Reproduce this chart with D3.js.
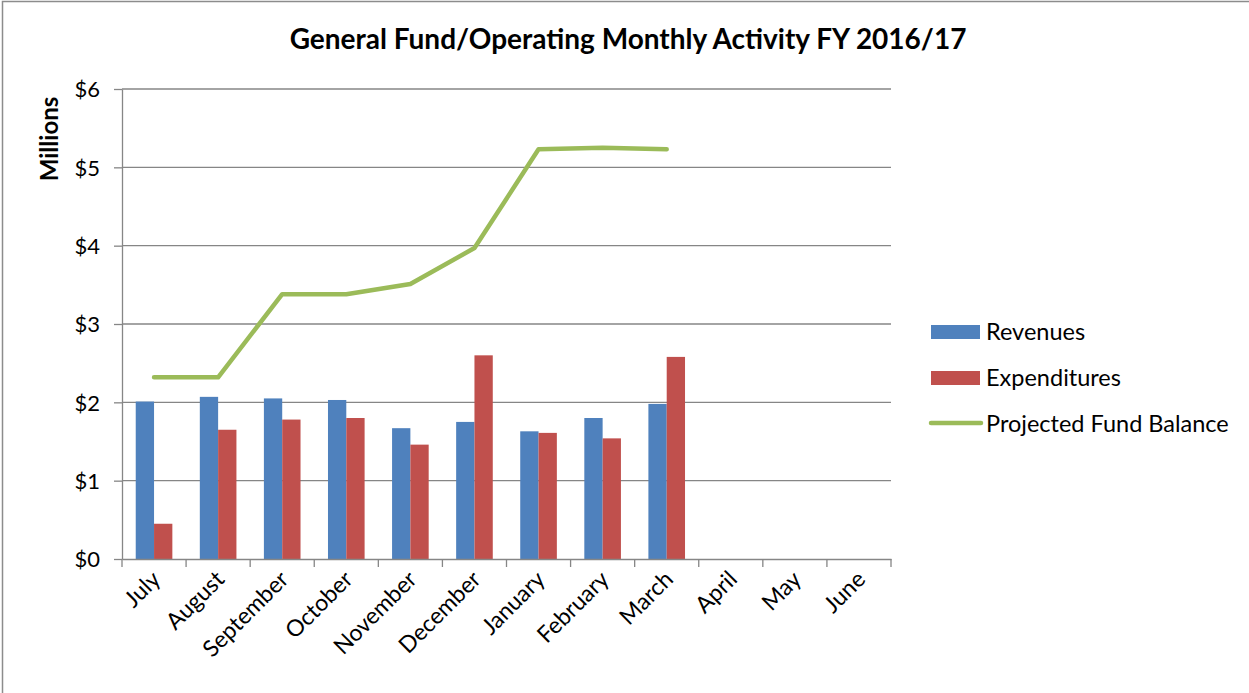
<!DOCTYPE html>
<meta charset='utf-8'>
<style>
body {
    margin: 0;
    background: #fff;
}

svg text {
    font-family: Lato, 'Open Sans', sans-serif;
    fill: #000;
}

.grid line {
    stroke: #868686;
    stroke-width: 1.3px;
}

.axis path,
.axis line {
    stroke: #868686;
    stroke-width: 1.3px;
}
</style>

<body>
    <div class='chart'></div>
    <script src='https://d3js.org/d3.v7.min.js'></script>
    <script>
    // monthly values, in millions of dollars
    var months = ['July', 'August', 'September', 'October', 'November', 'December',
                  'January', 'February', 'March', 'April', 'May', 'June'];
    var revenues = [2.01, 2.07, 2.05, 2.03, 1.67, 1.75, 1.63, 1.80, 1.98];
    var expenditures = [0.45, 1.65, 1.78, 1.80, 1.46, 2.60, 1.61, 1.54, 2.58];
    var fundBalance = [2.32, 2.32, 3.38, 3.38, 3.51, 3.97, 5.23, 5.25, 5.23];
    var yTicks = [0, 1, 2, 3, 4, 5, 6];

    var seriesNames = ['Revenues', 'Expenditures', 'Projected Fund Balance'];
    var colors = {
        'Revenues': '#4f81bd',
        'Expenditures': '#c0504d',
        'Projected Fund Balance': '#9bbb59'
    };

    var width = 1249,
        height = 693;
    var margin = {top: 89, left: 122, right: 358, bottom: 134};

    var svg = d3.select('.chart').append('svg')
        .attr('width', width)
        .attr('height', height);

    // chart border (only left and top visible in the frame)
    svg.append('rect')
        .attr('x', 2.5)
        .attr('y', 1.5)
        .attr('width', width + 10)
        .attr('height', height + 10)
        .attr('fill', 'none')
        .attr('stroke', '#8c8c8c')
        .attr('stroke-width', 1.5);

    var x = d3.scaleBand()
        .domain(months)
        .range([margin.left, width - margin.right]);

    var y = d3.scaleLinear()
        .domain([0, 6])
        .range([height - margin.bottom, margin.top]);

    // bars take 2 of 3.5 parts of each band (gap width 150%)
    var barW = x.bandwidth() / 3.5;
    var groupOffset = x.bandwidth() * 0.75 / 3.5;

    // gridlines
    svg.append('g')
        .attr('class', 'grid')
        .selectAll('line')
        .data(yTicks.slice(1))
        .enter().append('line')
        .attr('x1', margin.left)
        .attr('x2', width - margin.right)
        .attr('y1', function(d) { return y(d); })
        .attr('y2', function(d) { return y(d); });

    // bars
    var barSeries = [
        {name: 'Revenues', values: revenues, shift: 0},
        {name: 'Expenditures', values: expenditures, shift: 1}
    ];

    barSeries.forEach(function(s) {
        svg.append('g')
            .selectAll('rect')
            .data(s.values)
            .enter().append('rect')
            .attr('x', function(d, i) { return x(months[i]) + groupOffset + s.shift * barW; })
            .attr('y', function(d) { return y(d); })
            .attr('width', barW)
            .attr('height', function(d) { return y(0) - y(d); })
            .attr('fill', colors[s.name]);
    });

    // y axis
    var yAxis = svg.append('g')
        .attr('class', 'axis')
        .attr('transform', 'translate(' + margin.left + ',0)')
        .call(d3.axisLeft(y)
            .tickValues(yTicks)
            .tickSize(8)
            .tickSizeOuter(0)
            .tickPadding(14)
            .tickFormat(function(d) { return '$' + d; }));
    yAxis.selectAll('text')
        .style('font-size', '22px')
        .attr('dy', '0.35em');

    // x axis
    var xAxis = svg.append('g')
        .attr('class', 'axis')
        .attr('transform', 'translate(0,' + y(0) + ')')
        .call(d3.axisBottom(x).tickSize(0).tickSizeOuter(0).tickFormat(''));
    xAxis.selectAll('.tick').remove();

    // category boundary ticks
    var edges = months.map(function(m) { return x(m); }).concat([x.range()[1]]);
    xAxis.selectAll('.edge')
        .data(edges)
        .enter().append('line')
        .attr('class', 'edge')
        .attr('x1', function(d) { return d; })
        .attr('x2', function(d) { return d; })
        .attr('y1', 0)
        .attr('y2', 8);

    // rotated month labels
    svg.append('g')
        .selectAll('text')
        .data(months)
        .enter().append('text')
        .attr('transform', function(d) {
            return 'translate(' + (x(d) + x.bandwidth() / 2 - 2) + ',' + (y(0) + 12) + ') rotate(-45)';
        })
        .attr('text-anchor', 'end')
        .attr('dy', '0.6em')
        .style('font-size', '23px')
        .text(function(d) { return d; });

    // fund balance line
    var line = d3.line()
        .x(function(d, i) { return x(months[i]) + x.bandwidth() / 2; })
        .y(function(d) { return y(d); });

    svg.append('path')
        .datum(fundBalance)
        .attr('d', line)
        .attr('fill', 'none')
        .attr('stroke', colors['Projected Fund Balance'])
        .attr('stroke-width', 4.5)
        .attr('stroke-linecap', 'round')
        .attr('stroke-linejoin', 'round');

    // title
    svg.append('text')
        .attr('x', 628)
        .attr('y', 49)
        .attr('text-anchor', 'middle')
        .style('font-size', '28px')
        .style('font-weight', 'bold')
        .text('General Fund/Operating Monthly Activity FY 2016/17');

    // y axis title
    svg.append('text')
        .attr('transform', 'translate(58,139) rotate(-90)')
        .attr('text-anchor', 'middle')
        .style('font-size', '24px')
        .style('font-weight', 'bold')
        .text('Millions');

    // legend
    var legend = svg.append('g')
        .attr('transform', 'translate(931,332)');

    var item = legend.selectAll('g')
        .data(seriesNames)
        .enter().append('g')
        .attr('transform', function(d, i) { return 'translate(0,' + (i * 46) + ')'; });

    item.each(function(d, i) {
        var g = d3.select(this);
        if (i < 2) {
            g.append('rect')
                .attr('x', 0)
                .attr('y', -7)
                .attr('width', 49)
                .attr('height', 14)
                .attr('fill', colors[d]);
        } else {
            g.append('line')
                .attr('x1', 0)
                .attr('x2', 50)
                .attr('y1', -1)
                .attr('y2', -1)
                .attr('stroke', colors[d])
                .attr('stroke-width', 4.5)
                .attr('stroke-linecap', 'round');
        }
        g.append('text')
            .attr('x', 55)
            .attr('y', 8)
            .style('font-size', '23.5px')
            .text(d);
    });
    </script>
